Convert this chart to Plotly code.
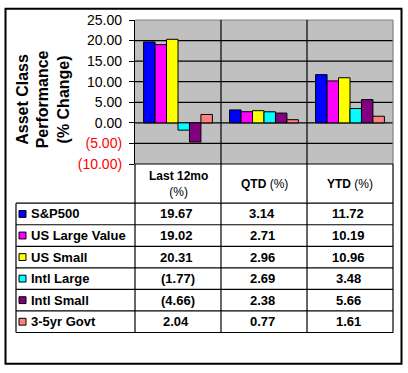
import plotly.graph_objects as go

categories = ["Last 12mo (%)", "QTD (%)", "YTD (%)"]
header_labels = ["<b>Last 12mo</b><br>(%)", "<b>QTD</b> (%)", "<b>YTD</b> (%)"]
series_names = ["S&P500", "US Large Value", "US Small", "Intl Large", "Intl Small", "3-5yr Govt"]
sp500 = [19.67, 3.14, 11.72]
us_large_value = [19.02, 2.71, 10.19]
us_small = [20.31, 2.96, 10.96]
intl_large = [-1.77, 2.69, 3.48]
intl_small = [-4.66, 2.38, 5.66]
govt_3_5yr = [2.04, 0.77, 1.61]
series_values = [sp500, us_large_value, us_small, intl_large, intl_small, govt_3_5yr]
colors = ["#0000FF", "#FF00FF", "#FFFF00", "#00FFFF", "#800080", "#FF8080"]
ytick_vals = [-10, -5, 0, 5, 10, 15, 20, 25]


def fmt_tick(v):
    if v < 0:
        return '<span style="color:#FF0000">(%.2f)</span>' % abs(v)
    return "%.2f" % v


def fmt_cell(v):
    return "(%.2f)" % abs(v) if v < 0 else "%.2f" % v


W, H = 408, 373
L, R, T, B = 135, 15, 17, 209
PW, PH = W - L - R, H - T - B
FONT = "Liberation Sans, Arial, sans-serif"


def px(x):
    return (x - L) / PW


def py(y):
    return (H - B - y) / PH


fig = go.Figure()
for name, vals, c in zip(series_names, series_values, colors):
    fig.add_trace(go.Bar(x=categories, y=vals, name=name,
                         marker=dict(color=c, line=dict(color="black", width=1))))

shapes = []
# horizontal gridlines
for v in ytick_vals[1:-1]:
    shapes.append(dict(type="line", xref="paper", yref="y", x0=0, x1=1, y0=v, y1=v,
                       line=dict(color="black", width=1.2), layer="below"))
# top & right gray border of plot area
shapes.append(dict(type="line", xref="paper", yref="paper", x0=0, x1=1, y0=1, y1=1,
                   line=dict(color="#808080", width=1.2), layer="below"))
shapes.append(dict(type="line", xref="paper", yref="paper", x0=1, x1=1, y0=0, y1=1,
                   line=dict(color="#808080", width=1.2), layer="below"))
# category dividers in plot area
n = len(categories)
for k in range(1, n):
    shapes.append(dict(type="line", xref="paper", yref="paper", x0=k / n, x1=k / n, y0=0, y1=1,
                       line=dict(color="black", width=1.2), layer="below"))

# table
row_h = 22
head_top, head_bot = 164, 204
rows_bot = head_bot + row_h * len(series_names)
leg_left = 16
shapes.append(dict(type="line", xref="paper", yref="paper", x0=0, x1=1, y0=0, y1=0,
                   line=dict(color="black", width=1.2)))
for k in range(n + 1):
    shapes.append(dict(type="line", xref="paper", yref="paper", x0=k / n, x1=k / n,
                       y0=py(head_top), y1=py(rows_bot), line=dict(color="black", width=1.2)))
for i in range(len(series_names) + 1):
    yy = head_bot + row_h * i
    shapes.append(dict(type="line", xref="paper", yref="paper", x0=px(leg_left), x1=1,
                       y0=py(yy), y1=py(yy), line=dict(color="black", width=1.2)))
shapes.append(dict(type="line", xref="paper", yref="paper", x0=px(leg_left), x1=px(leg_left),
                   y0=py(head_bot), y1=py(rows_bot), line=dict(color="black", width=1.2)))
for i, c in enumerate(colors):
    cy = head_bot + row_h * i + row_h / 2
    shapes.append(dict(type="rect", xref="paper", yref="paper", x0=px(19), x1=px(26),
                       y0=py(cy - 3.5), y1=py(cy + 3.5), fillcolor=c,
                       line=dict(color="black", width=1)))
shapes.append(dict(type="rect", xref="paper", yref="paper", x0=px(5.5), x1=px(401.5),
                   y0=py(5.5), y1=py(368), line=dict(color="black", width=2)))

annotations = []
for k, lab in enumerate(header_labels):
    annotations.append(dict(xref="paper", yref="paper", x=(k + 0.5) / n, y=py(184),
                            text=lab, showarrow=False, xanchor="center", yanchor="middle",
                            font=dict(family=FONT, size=12, color="black")))
for i, (name, vals) in enumerate(zip(series_names, series_values)):
    cy = head_bot + row_h * i + row_h / 2
    annotations.append(dict(xref="paper", yref="paper", x=px(29), y=py(cy),
                            text="<b>%s</b>" % name.replace("&", "&amp;"),
                            showarrow=False, xanchor="left", yanchor="middle",
                            font=dict(family=FONT, size=13, color="black")))
    for k, v in enumerate(vals):
        annotations.append(dict(xref="paper", yref="paper", x=(k + 0.5) / n, y=py(cy),
                                text="<b>%s</b>" % fmt_cell(v), showarrow=False,
                                xanchor="center", yanchor="middle",
                                xshift=(0 if v < 0 else -2),
                                font=dict(family=FONT, size=13, color="black")))
annotations.append(dict(xref="paper", yref="paper", x=px(43), y=py(98),
                        text="<b>Asset Class<br>Performance<br>(% Change)</b>",
                        textangle=-90, showarrow=False, xanchor="center", yanchor="middle",
                        font=dict(family=FONT, size=16, color="black")))

fig.update_layout(
    width=W, height=H,
    margin=dict(l=L, r=R, t=T, b=B, pad=0),
    paper_bgcolor="white", plot_bgcolor="#C0C0C0",
    barmode="group", bargap=0.2, bargroupgap=0,
    showlegend=False,
    font=dict(family=FONT, size=13, color="black"),
    xaxis=dict(showticklabels=False, showgrid=False, zeroline=False, showline=False,
               ticks="", range=[-0.5, n - 0.5], fixedrange=True),
    yaxis=dict(range=[ytick_vals[0], ytick_vals[-1]], tickvals=ytick_vals,
               ticktext=[fmt_tick(v) for v in ytick_vals], showgrid=False, zeroline=False,
               showline=True, linecolor="black", linewidth=1.2, ticks="outside",
               ticklen=5, tickcolor="black", tickwidth=1.2, ticklabelstandoff=4,
               tickfont=dict(family=FONT, size=14, color="black"), fixedrange=True),
    shapes=shapes, annotations=annotations,
)

fig.write_html("out.html", config={"displayModeBar": False},
               post_script="document.body.style.margin='0';document.body.style.overflow='hidden';")
